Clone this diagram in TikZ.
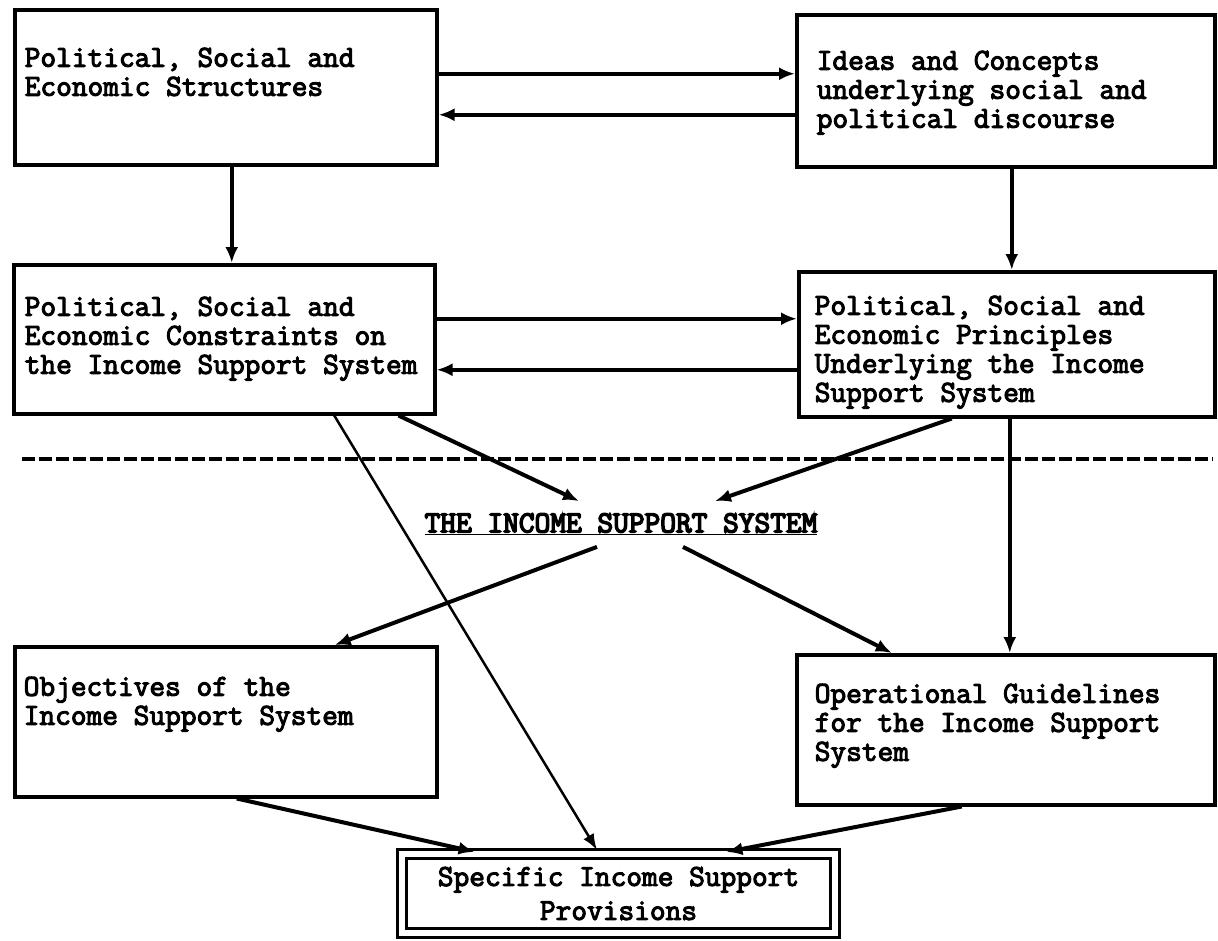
\documentclass[tikz,border=0pt]{standalone}
\usepackage{fontspec}
\newfontfamily\typewriter{Latin Modern Mono}[BoldFont={Latin Modern Mono}, BoldFeatures={FakeBold=3.5}]
\newfontfamily\typeheavy{Latin Modern Mono}[FakeBold=5]
\usetikzlibrary{arrows.meta}

\newcommand{\boxfont}{\fontsize{30.5pt}{29pt}\selectfont\typewriter\bfseries}
% width, height, first baseline, left pad, lines
\newcommand{\boxtext}[5]{\parbox[c][#2pt][t]{#1pt}{\vspace*{\dimexpr#3pt-\ht\strutbox\relax}\leftskip=#4pt\noindent\strut#5\par}}

\begin{document}
\begin{tikzpicture}[x=1pt, y=-1pt,
  box/.style={draw, line width=3.5pt, inner sep=0pt, anchor=north west, font=\boxfont},
  arr/.style={line width=4pt, -{Latex[length=16pt,width=13pt]}},
  thinarr/.style={line width=2.5pt, -{Latex[length=16pt,width=12pt]}}]

\useasboundingbox (0,0) rectangle (1218,940);

% boxes
\node[box] (pse) at (13,8) {\boxtext{422}{155}{57}{10}{Political, Social and\\Economic Structures}};
\node[box] (ideas) at (795,13) {\boxtext{418}{152}{55}{20}{Ideas and Concepts\\underlying social and\\political discourse}};
\node[box] (cons) at (12,263) {\boxtext{421}{149}{51}{11}{Political, Social and\\Economic Constraints on\\the Income Support System}};
\node[box] (princ) at (797,270) {\boxtext{416}{145}{43}{16}{Political, Social and\\Economic Principles\\Underlying the Income\\Support System}};
\node[box] (obj) at (13,645) {\boxtext{422}{150}{49}{9}{Objectives of the\\Income Support System}};
\node[box] (ops) at (795,653) {\boxtext{418}{150}{48}{18}{Operational Guidelines\\for the Income Support\\System}};
\node[draw, double, line width=3pt, double distance=6pt, minimum width=433pt, minimum height=79pt,
  inner sep=0pt, align=center, font=\boxfont] (prov) at (618.5,893.5) {Specific Income Support\\[5pt]Provisions};

% separator and label
\draw[line width=3.5pt, dash pattern=on 13pt off 4pt] (22,459) -- (1213,459);
\node[font=\fontsize{30.5pt}{29pt}\selectfont\typeheavy, inner sep=12pt] (iss) at (621,524) {\underline{THE INCOME SUPPORT SYSTEM}};

% connectors
\draw[arr] ([yshift=13.5pt]pse.east) -- ([yshift=13.5pt]pse.east -| ideas.west);
\draw[arr] ([yshift=-27.5pt]pse.east -| ideas.west) -- ([yshift=-27.5pt]pse.east);
\draw[arr] ([xshift=6pt]pse.south) -- ([xshift=6pt]pse.south |- cons.north);
\draw[arr] ([xshift=6pt]ideas.south) -- ([xshift=6pt]ideas.south |- princ.north);
\draw[arr] ([yshift=20.5pt]cons.east) -- ([yshift=20.5pt]cons.east -| princ.west);
\draw[arr] ([yshift=-30.5pt]cons.east -| princ.west) -- ([yshift=-30.5pt]cons.east);
\draw[arr] ([xshift=3pt]princ.south) -- ([xshift=3pt]princ.south |- ops.north);
\draw[arr] ([xshift=-38pt]cons.south east) -- ([xshift=-42pt]iss.north);
\draw[arr] ([xshift=-55pt]princ.south) -- ([xshift=94pt]iss.north);
\draw[arr] ([xshift=-24pt]iss.south) -- ([xshift=109pt]obj.north);
\draw[arr] ([xshift=62pt]iss.south) -- ([xshift=-114pt]ops.north);
\draw[thinarr, shorten >=3pt] ([xshift=110pt]cons.south) -- ([xshift=-20pt]prov.north);
\draw[arr, shorten >=3pt] ([xshift=11pt]obj.south) -- ([xshift=-141pt]prov.north);
\draw[arr, shorten >=3pt] ([xshift=-44pt]ops.south) -- ([xshift=105pt]prov.north);
\end{tikzpicture}
\end{document}
